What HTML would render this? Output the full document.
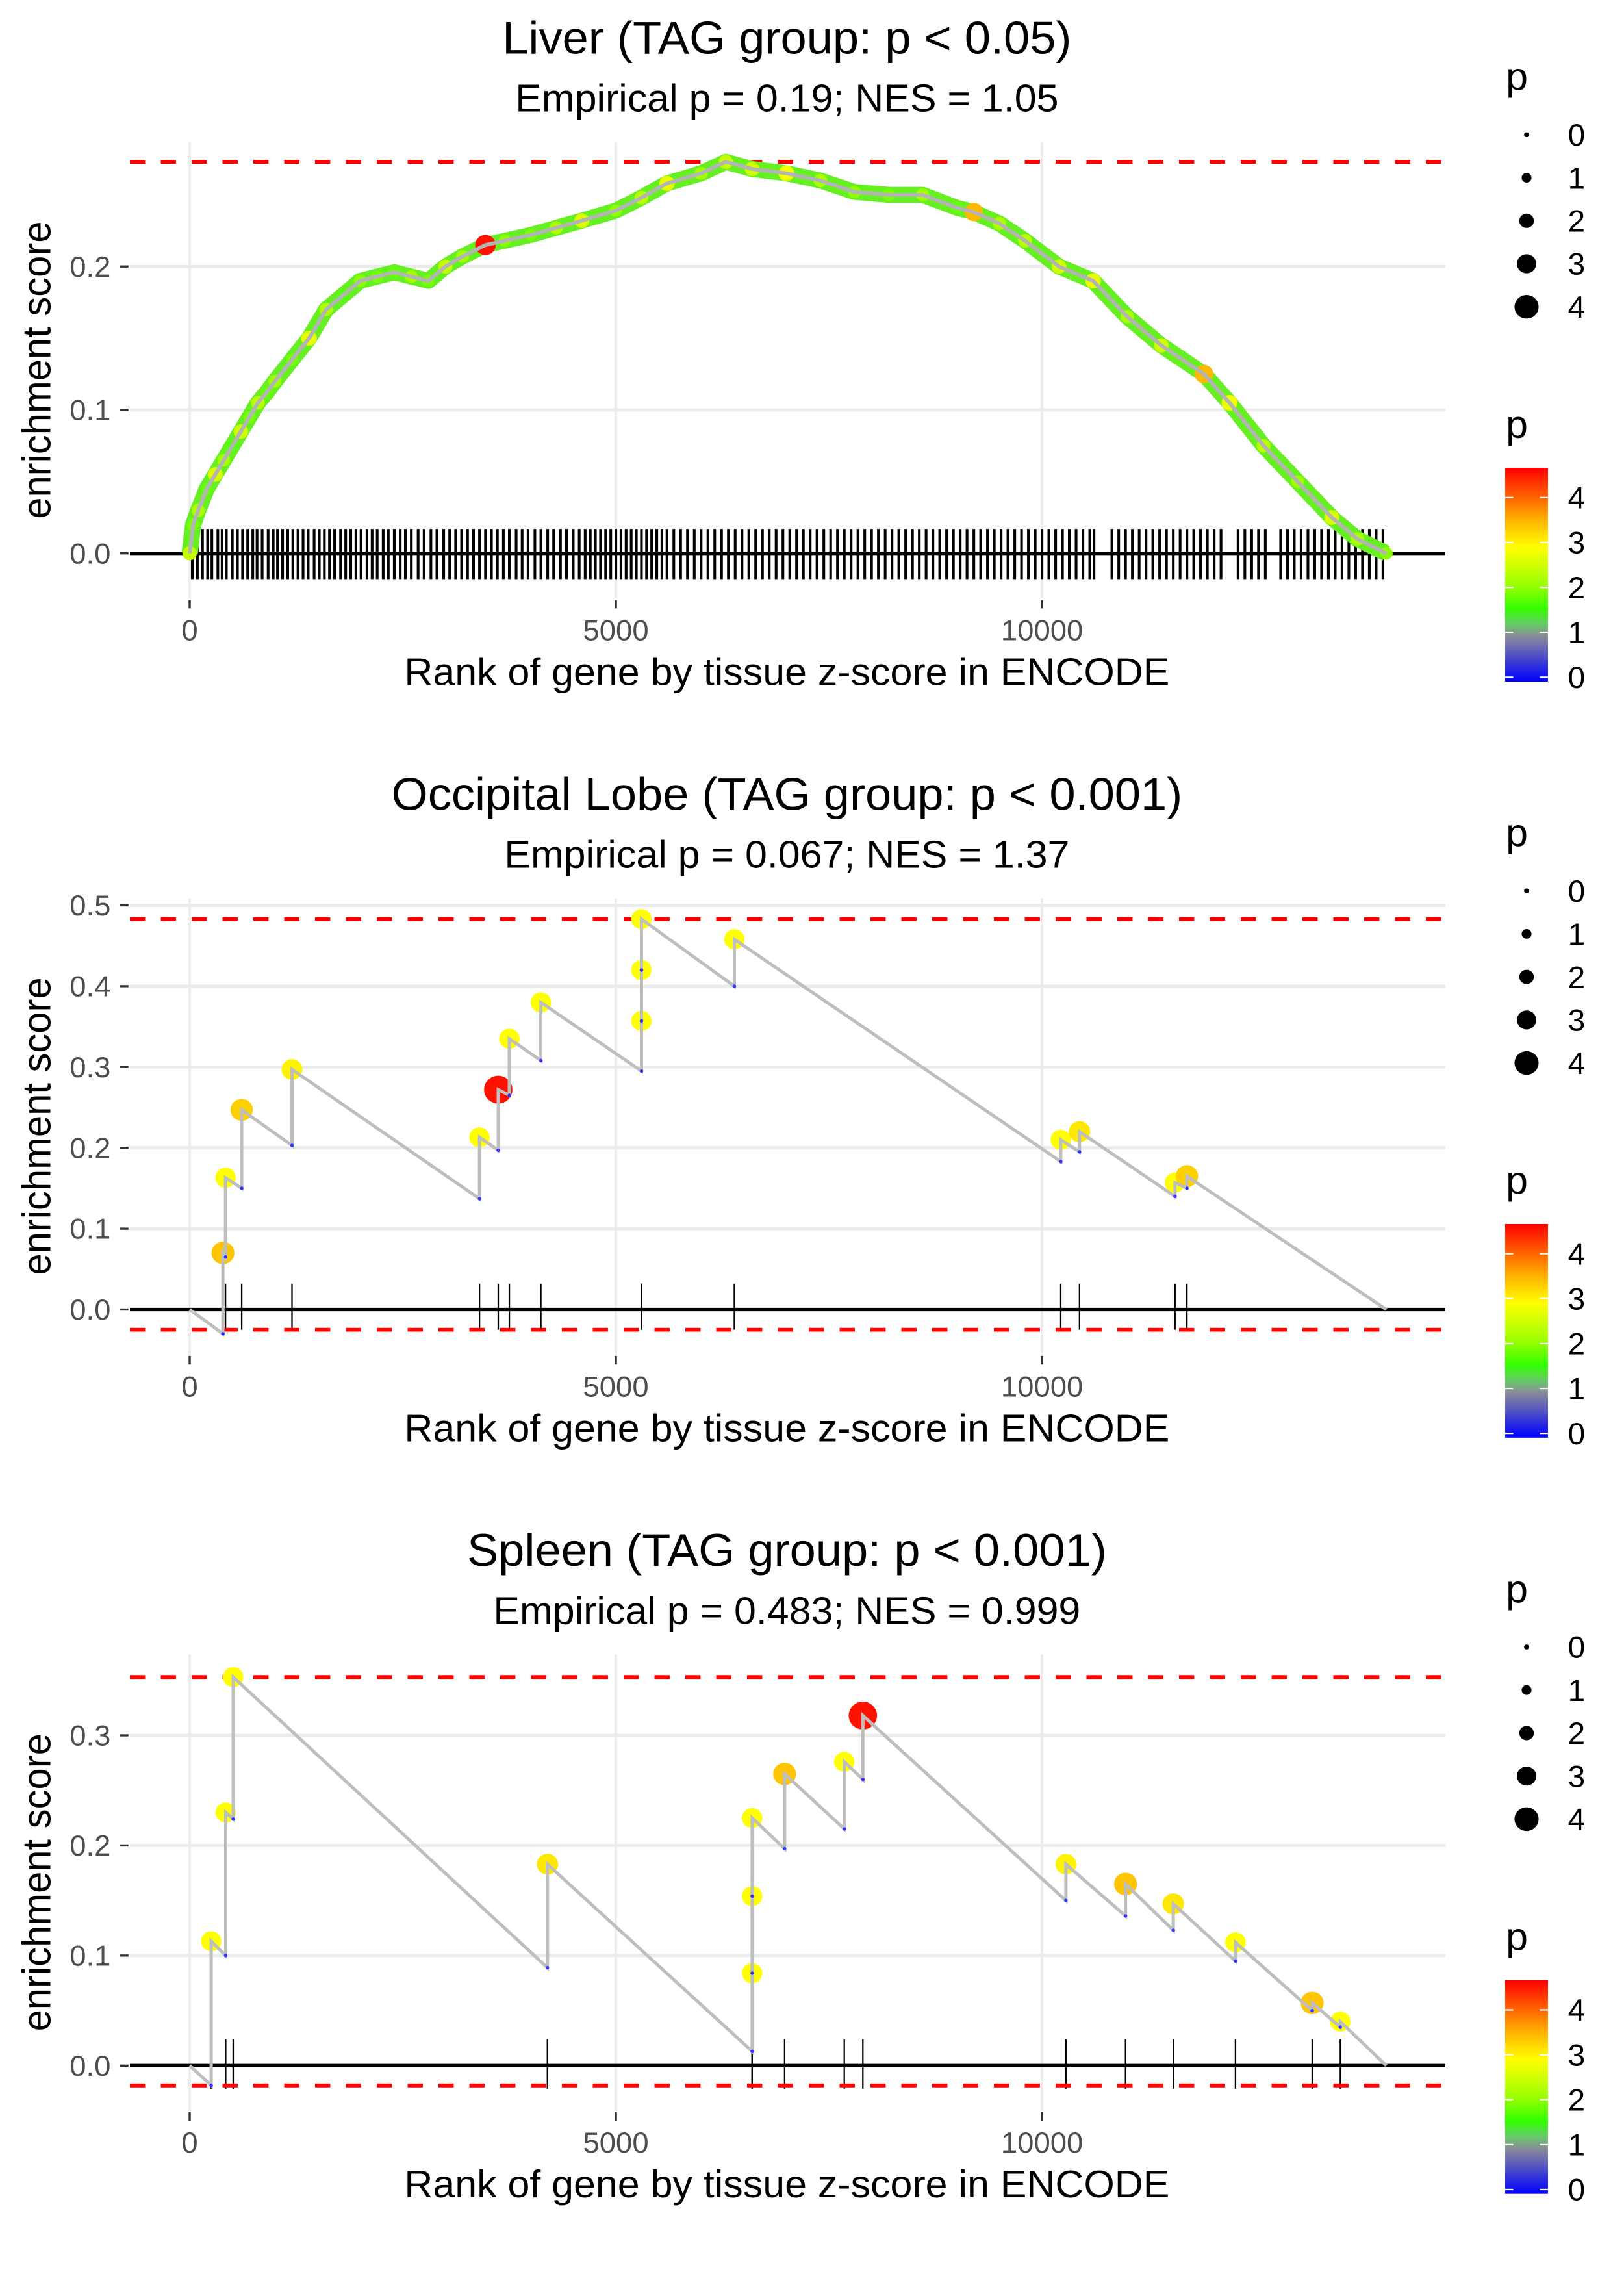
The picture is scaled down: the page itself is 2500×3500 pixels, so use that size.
<!DOCTYPE html>
<html><head><meta charset="utf-8"><style>
html,body{margin:0;padding:0;background:#fff}
svg{display:block;font-family:"Liberation Sans",sans-serif}
</style></head><body>
<svg id="chart" xmlns="http://www.w3.org/2000/svg" width="2500" height="3500" viewBox="0 0 1100 1540">
<defs>
<linearGradient id="pgrad" x1="0" y1="1" x2="0" y2="0">
<stop offset="0" stop-color="#0000ff"/><stop offset="0.21" stop-color="#8a8a9a"/><stop offset="0.27" stop-color="#66cc66"/>
<stop offset="0.34" stop-color="#33ff00"/><stop offset="0.45" stop-color="#99ff00"/><stop offset="0.63" stop-color="#ffff00"/>
<stop offset="0.76" stop-color="#ffb000"/><stop offset="0.86" stop-color="#ff6600"/><stop offset="1" stop-color="#ff0000"/>
</linearGradient>
</defs>
<g id="root" transform="scale(1,0.981)"></g>
</svg>
<script>
// ---- data ----
const xTickLabels = ["0","5000","10000"];
const xTickValues = [0,5000,10000];
// Liver
const liverRank = [0,40,100,200,300,400,500,600,700,800,900,1000,1200,1400,1600,1800,2000,2200,2400,2600,2800,3000,3200,3470,3700,4000,4300,4600,5000,5300,5600,6000,6290,6600,7000,7400,7800,8200,8600,9000,9200,9500,9800,10200,10600,11000,11400,11900,12200,12600,13000,13400,13700,14040];
const liverES = [0,0.02,0.03,0.045,0.055,0.065,0.075,0.085,0.095,0.105,0.112,0.12,0.135,0.15,0.17,0.18,0.19,0.193,0.196,0.193,0.19,0.2,0.207,0.215,0.218,0.222,0.227,0.232,0.239,0.248,0.258,0.265,0.273,0.268,0.265,0.26,0.252,0.25,0.25,0.241,0.238,0.23,0.218,0.2,0.19,0.165,0.145,0.125,0.105,0.075,0.05,0.025,0.01,0];
const liverP = [2.5,2,2.3,1.9,2.7,2.2,1.8,2.6,2,2.4,1.9,2.2,2,2.8,2.3,1.8,2.1,2,1.9,2.2,2,2.5,2.2,4.6,2.1,2,2.3,2.7,2.1,2.4,2.8,2.2,2.5,2.6,2.9,2.3,2.1,2,2.2,1.9,3.6,2.3,2.4,2.6,2.8,2.3,2.6,3.6,2.9,2.4,2.2,2.7,2.3,2.1];
const liverHits = [30,90,150,210,260,330,380,430,500,560,620,680,740,790,850,920,980,1030,1090,1150,1210,1270,1330,1390,1460,1520,1580,1640,1700,1770,1830,1890,1950,2010,2080,2140,2200,2270,2330,2400,2470,2530,2600,2680,2750,2830,2900,2980,3050,3120,3190,3260,3330,3400,3470,3540,3610,3680,3750,3830,3900,3970,4050,4120,4200,4270,4350,4420,4500,4570,4640,4700,4760,4820,4880,4940,5000,5060,5120,5180,5240,5300,5360,5420,5480,5540,5600,5680,5760,5840,5920,6000,6080,6160,6240,6320,6400,6480,6560,6640,6720,6800,6880,6960,7040,7120,7200,7280,7360,7440,7520,7600,7680,7760,7840,7920,8000,8080,8160,8240,8320,8400,8480,8560,8640,8720,8800,8880,8960,9040,9120,9200,9280,9360,9440,9520,9600,9680,9760,9840,9920,10000,10080,10160,10240,10320,10400,10480,10560,10610,10820,10900,10980,11060,11140,11220,11300,11380,11460,11540,11620,11700,11780,11860,11940,12020,12100,12300,12380,12460,12540,12620,12800,12880,12960,13040,13120,13200,13280,13360,13440,13520,13600,13680,13760,13840,13920,14000];
// Occipital lobe
const occRank   = [390,420,610,1200,3400,3620,3750,4120,5300,5300,5300,6390,10220,10440,11560,11700];
const occBefore = [-0.03,0.065,0.15,0.203,0.137,0.197,0.265,0.308,0.295,0.357,0.42,0.4,0.183,0.195,0.14,0.15];
const occAfter  = [0.07,0.163,0.247,0.297,0.213,0.272,0.335,0.38,0.357,0.42,0.483,0.458,0.21,0.22,0.157,0.165];
const occP      = [3.5,3,3.4,3.1,3,4.6,3,3,3,3,3,3,3,3.2,3,3.4];
// Spleen
const splRank   = [252,422,510,4197,6599,6599,6599,6980,7680,7898,10280,10980,11540,12270,13170,13500];
const splBefore = [-0.018,0.1,0.224,0.089,0.013,0.084,0.154,0.197,0.215,0.26,0.15,0.136,0.123,0.095,0.05,0.035];
const splAfter  = [0.113,0.23,0.353,0.183,0.084,0.154,0.225,0.265,0.276,0.318,0.183,0.165,0.147,0.112,0.057,0.04];
const splP      = [3,3,3,3.2,3,3,3,3.5,3,4.6,3.1,3.5,3.2,3,3.5,3];
const endRank = 14040;
const legendSizes = [0,1,2,3,4];

// ---- helpers ----
const svg = document.getElementById('root');
const NS = 'http://www.w3.org/2000/svg';
function mk(tag, attrs, parent){ const e=document.createElementNS(NS,tag); for(const k in attrs) e.setAttribute(k,attrs[k]); (parent||svg).appendChild(e); return e; }
function txt(s, attrs, parent){ const e=mk('text',attrs,parent); e.textContent=s; return e; }
const stops=[[0,[0,0,255]],[1,[140,140,150]],[1.6,[40,255,20]],[2.2,[160,255,0]],[3,[255,255,0]],[3.6,[255,185,0]],[4.1,[255,100,0]],[4.7,[255,0,0]]];
function pColor(p){ for(let i=1;i<stops.length;i++){ if(p<=stops[i][0]){ const a=stops[i-1],b=stops[i]; const t=(p-a[0])/(b[0]-a[0]); const c=a[1].map((v,j)=>Math.round(v+(b[1][j]-v)*t)); return `rgb(${c})`; } } return 'rgb(255,0,0)'; }
function pRadius(p){ return 1.8+p*1.7; }
const X0=128.5, XS=0.05773, XL=88, XR=979, XC=533;
function xs(r){ return X0+r*XS; }

function panel(cfg){
  const g=mk('g',{});
  
  
  const ys=v=>cfg.y0-v*cfg.ys;
  cfg.yTicks.forEach(v=>{ const l=mk('line',{x1:XL,x2:XR,y1:ys(v),y2:ys(v),stroke:'#ebebeb','stroke-width':2.2},g);   });
  xTickValues.forEach(v=>{ const l=mk('line',{x1:xs(v),x2:xs(v),y1:cfg.top,y2:cfg.bottom,stroke:'#ebebeb','stroke-width':1.6},g);   });
  const t=txt(cfg.title,{x:XC,y:cfg.titleY,'text-anchor':'middle','font-size':31.8,fill:'#000'},g);  
  const st=txt(cfg.subtitle,{x:XC,y:cfg.subY,'text-anchor':'middle','font-size':26.8,fill:'#000'},g);  
  cfg.yTicks.forEach(v=>{ const tl=txt(v.toFixed(1),{x:75,y:ys(v)+7,'text-anchor':'end','font-size':20,fill:'#4d4d4d'},g);   mk('line',{x1:81,x2:87,y1:ys(v),y2:ys(v),stroke:'#333','stroke-width':1.5},g); });
  xTickValues.forEach((v,i)=>{ mk('line',{x1:xs(v),x2:xs(v),y1:cfg.bottom+1,y2:cfg.bottom+7,stroke:'#333','stroke-width':1.5},g); const tl=txt(xTickLabels[i],{x:xs(v),y:cfg.bottom+29,'text-anchor':'middle','font-size':20,fill:'#4d4d4d'},g);   });
  const xt=txt('Rank of gene by tissue z-score in ENCODE',{x:XC,y:cfg.bottom+60,'text-anchor':'middle','font-size':26.8,fill:'#000'},g);  
  const yt=txt('enrichment score',{x:0,y:0,'text-anchor':'middle','font-size':26.8,fill:'#000',transform:`translate(34,${(cfg.top+cfg.bottom)/2}) rotate(-90)`},g);  
  cfg.hits.forEach(r=>{ const l=mk('line',{x1:xs(r),x2:xs(r),y1:ys(cfg.barTop),y2:ys(cfg.barBot),stroke:'#000','stroke-width':cfg.hitW},g);   });
  const z=mk('line',{x1:XL,x2:XR,y1:ys(0),y2:ys(0),stroke:'#000','stroke-width':2.4},g);  
  cfg.red.forEach(v=>{ const l=mk('line',{x1:XL,x2:XR,y1:ys(v),y2:ys(v),stroke:'#ff0000','stroke-width':2.6,'stroke-dasharray':'10.3,10.6'},g);   });
  cfg.draw(g,ys);
  const lg=mk('g',{},svg);
   
  txt('p',{x:1020,y:cfg.legY,'font-size':26.8,fill:'#000'},lg);
  legendSizes.forEach((s,i)=>{ const yy=cfg.legY+31+i*29.7; const c=mk('circle',{cx:1034,cy:yy,r:pRadius(s)*0.95,fill:'#000'},lg);   txt(String(s),{x:1062,y:yy+7.5,'font-size':21,fill:'#000'},lg); });
  const cg=mk('g',{},svg);
   
  txt('p',{x:1020,y:cfg.legY+240,'font-size':26.8,fill:'#000'},cg);
  const bar=mk('rect',{x:1019.5,y:cfg.legY+261,width:29,height:147.5,fill:'url(#pgrad)'},cg);  
  legendSizes.forEach(s=>{ const yy=cfg.legY+405.5-s*31; mk('line',{x1:1019.5,x2:1025,y1:yy,y2:yy,stroke:'#fff','stroke-width':1},cg); mk('line',{x1:1043,x2:1048.5,y1:yy,y2:yy,stroke:'#fff','stroke-width':1},cg); txt(String(s),{x:1062,y:yy+7.5,'font-size':21,fill:'#000'},cg); });
}

function stepDraw(rank,before,after,pv){
  return function(g,ys){
    let d=`M${xs(0)},${ys(0)}`;
    rank.forEach((r,i)=>{ d+=` L${xs(r)},${ys(before[i])} L${xs(r)},${ys(after[i])}`; });
    d+=` L${xs(endRank)},${ys(0)}`;
    rank.forEach((r,i)=>{ const c=mk('circle',{cx:xs(r),cy:ys(after[i]),r:pRadius(pv[i]),fill:pColor(pv[i])},g);   });
    const p=mk('path',{d:d,fill:'none',stroke:'#bebebe','stroke-width':2.2},g);  
    rank.forEach((r,i)=>{ const c=mk('circle',{cx:xs(r),cy:ys(before[i]),r:1.2,fill:'#3030ff'},g);   });
  };
}

panel({name:'liver',title:'Liver (TAG group: p < 0.05)',subtitle:'Empirical p = 0.19; NES = 1.05',titleY:37,subY:77,
  y0:382,ys:990,top:98,bottom:413,yTicks:[0,0.1,0.2],red:[0.273],hits:liverHits,hitW:1.8,barTop:0.017,barBot:-0.018,legY:62,
  draw:function(g,ys){
    const pts=liverRank.map((r,i)=>`${xs(r)},${ys(liverES[i])}`).join(' ');
    const band=mk('polyline',{points:pts,fill:'none',stroke:'#66f022','stroke-width':11,'stroke-linejoin':'round'},g);  
    liverRank.forEach((r,i)=>{ const c=mk('circle',{cx:xs(r),cy:ys(liverES[i]),r:Math.min(pRadius(liverP[i])*0.8,7),fill:pColor(liverP[i])},g);   });
    const l=mk('polyline',{points:pts,fill:'none',stroke:'#b4b4b4','stroke-width':2.6,'stroke-linejoin':'round'},g);  
  }});
panel({name:'occipital-lobe',title:'Occipital Lobe (TAG group: p < 0.001)',subtitle:'Empirical p = 0.067; NES = 1.37',titleY:559,subY:599,
  y0:904,ys:558,top:620,bottom:935,yTicks:[0,0.1,0.2,0.3,0.4,0.5],red:[0.483,-0.025],hits:occRank,hitW:1,barTop:0.032,barBot:-0.025,legY:584,
  draw:stepDraw(occRank,occBefore,occAfter,occP)});
panel({name:'spleen',title:'Spleen (TAG group: p < 0.001)',subtitle:'Empirical p = 0.483; NES = 0.999',titleY:1081,subY:1121,
  y0:1426,ys:760,top:1142,bottom:1457,yTicks:[0,0.1,0.2,0.3],red:[0.353,-0.018],hits:splRank,hitW:1,barTop:0.024,barBot:-0.021,legY:1106,
  draw:stepDraw(splRank,splBefore,splAfter,splP)});
</script>
</body></html>
